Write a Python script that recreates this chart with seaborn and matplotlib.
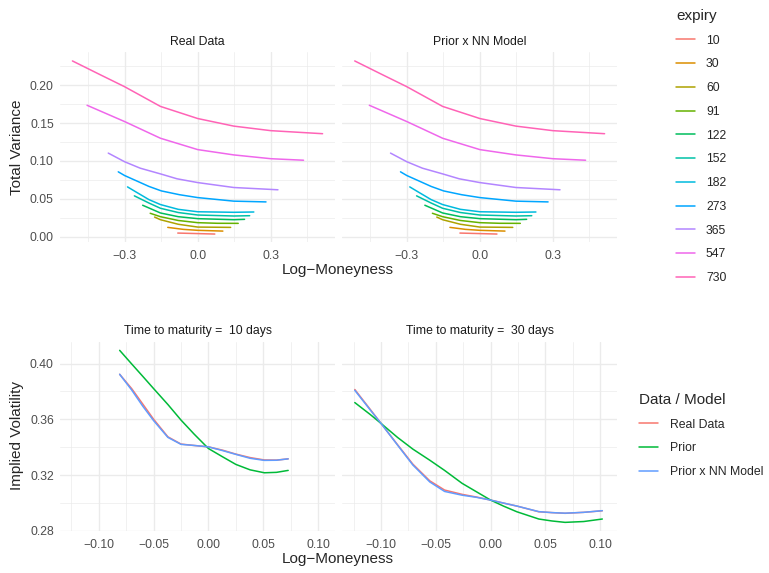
import matplotlib
matplotlib.use('Agg')
import matplotlib.pyplot as plt
from matplotlib.ticker import MultipleLocator, FuncFormatter
import numpy as np
import pandas as pd
import seaborn as sns

# ---- total variance smiles (log-moneyness, total variance) per expiry ----
lm_10 = [-0.082, 0.0, 0.07]
tv_10 = [0.0049, 0.0042, 0.0036]
lm_30 = [-0.123, -0.06, 0.0, 0.103]
tv_30 = [0.0124, 0.0098, 0.0085, 0.0075]
lm_60 = [-0.177, -0.153, -0.08, 0.0, 0.135]
tv_60 = [0.026, 0.0225, 0.0165, 0.0128, 0.0124]
lm_91 = [-0.195, -0.153, -0.08, 0.0, 0.08, 0.166]
tv_91 = [0.031, 0.0265, 0.0215, 0.0186, 0.0178, 0.0177]
lm_122 = [-0.226, -0.153, -0.08, 0.0, 0.148, 0.192]
tv_122 = [0.0416, 0.0314, 0.0265, 0.0239, 0.0225, 0.023]
lm_152 = [-0.26, -0.20, -0.153, -0.08, 0.0, 0.148, 0.213]
tv_152 = [0.054, 0.0445, 0.0376, 0.032, 0.0287, 0.0274, 0.0278]
lm_182 = [-0.288, -0.25, -0.20, -0.153, -0.08, 0.0, 0.148, 0.23]
tv_182 = [0.0658, 0.0585, 0.049, 0.0425, 0.0362, 0.033, 0.0323, 0.0327]
lm_273 = [-0.326, -0.30, -0.20, -0.149, -0.075, 0.0, 0.148, 0.28]
tv_273 = [0.0857, 0.0808, 0.0664, 0.0605, 0.0555, 0.0517, 0.047, 0.046]
lm_365 = [-0.367, -0.30, -0.236, -0.149, -0.085, 0.0, 0.148, 0.329]
tv_365 = [0.1104, 0.099, 0.0905, 0.0826, 0.0765, 0.0715, 0.065, 0.062]
lm_547 = [-0.454, -0.30, -0.153, 0.0, 0.148, 0.30, 0.434]
tv_547 = [0.1735, 0.152, 0.130, 0.115, 0.108, 0.103, 0.101]
lm_730 = [-0.514, -0.40, -0.30, -0.153, 0.0, 0.148, 0.30, 0.512]
tv_730 = [0.232, 0.2138, 0.198, 0.172, 0.156, 0.146, 0.140, 0.136]

expiries = ['10', '30', '60', '91', '122', '152', '182', '273', '365', '547', '730']
exp_colors = ['#F8766D', '#DB8E00', '#AEA200', '#64B200', '#00BD5C', '#00C1A7',
              '#00BADE', '#00A6FF', '#B385FF', '#EF67EB', '#FF63B6']
top_panels = ['Real Data', 'Prior x NN Model']

# ---- implied vol slices ----
lm_10d = [-0.081, -0.07, -0.06, -0.05, -0.037, -0.025, -0.013, 0.0, 0.013, 0.025, 0.038, 0.051, 0.062, 0.0727]
iv_real_10d = [0.3923, 0.382, 0.371, 0.360, 0.3474, 0.3422, 0.3412, 0.3402, 0.3378, 0.335, 0.3325, 0.3308, 0.3307, 0.3316]
iv_prior_10d = [0.4095, 0.3997, 0.3909, 0.382, 0.3706, 0.3594, 0.3493, 0.339, 0.333, 0.3276, 0.3237, 0.3216, 0.3219, 0.3233]
iv_nn_10d = [0.3923, 0.381, 0.3695, 0.359, 0.347, 0.342, 0.3412, 0.3402, 0.3375, 0.3348, 0.332, 0.3305, 0.3306, 0.3316]

lm_30d = [-0.124, -0.11, -0.10, -0.085, -0.071, -0.0555, -0.042, -0.026, -0.013, 0.0, 0.012, 0.024, 0.044, 0.056, 0.068, 0.085, 0.102]
iv_real_30d = [0.3814, 0.3672, 0.357, 0.3418, 0.3278, 0.3158, 0.3092, 0.3061, 0.3042, 0.302, 0.2998, 0.2977, 0.2936, 0.293, 0.2925, 0.2932, 0.2943]
iv_prior_30d = [0.372, 0.3635, 0.357, 0.347, 0.3386, 0.3306, 0.3233, 0.314, 0.308, 0.302, 0.2976, 0.2936, 0.2884, 0.287, 0.286, 0.2866, 0.2884]
iv_nn_30d = [0.3808, 0.3668, 0.357, 0.3415, 0.3272, 0.315, 0.3082, 0.3055, 0.304, 0.302, 0.2998, 0.2977, 0.2937, 0.293, 0.2926, 0.2932, 0.2944]

models = ['Real Data', 'Prior', 'Prior x NN Model']
model_colors = ['#F8766D', '#00BA38', '#619CFF']
bottom_panels = ['Time to maturity =  10 days', 'Time to maturity =  30 days']

# ---- build long tables ----
lm_list = [lm_10, lm_30, lm_60, lm_91, lm_122, lm_152, lm_182, lm_273, lm_365, lm_547, lm_730]
tv_list = [tv_10, tv_30, tv_60, tv_91, tv_122, tv_152, tv_182, tv_273, tv_365, tv_547, tv_730]
rows = []
for e, ks, ws in zip(expiries, lm_list, tv_list):
    for k, w in zip(ks, ws):
        rows.append({'expiry': e, 'lm': k, 'tv': w})
df_tv = pd.DataFrame(rows)

rows = []
for panel, ks, series in [(bottom_panels[0], lm_10d, [iv_real_10d, iv_prior_10d, iv_nn_10d]),
                          (bottom_panels[1], lm_30d, [iv_real_30d, iv_prior_30d, iv_nn_30d])]:
    for m, vals in zip(models, series):
        for k, v in zip(ks, vals):
            rows.append({'panel': panel, 'model': m, 'lm': k, 'iv': v})
df_iv = pd.DataFrame(rows)

sns.set_theme(style='white')
plt.rcParams['font.family'] = ['Liberation Sans', 'DejaVu Sans']

W, H = 769, 573
fig = plt.figure(figsize=(W / 100, H / 100), dpi=100)

SMALL = 8.8
BIG = 11


def px_axes(x0, y0, x1, y1):
    return fig.add_axes([x0 / W, 1 - y1 / H, (x1 - x0) / W, (y1 - y0) / H])


def style_axes(ax, xmaj, ymaj, xfmt, yfmt, show_y):
    ax.set_facecolor('white')
    for s in ax.spines.values():
        s.set_visible(False)
    ax.xaxis.set_major_locator(MultipleLocator(xmaj))
    ax.xaxis.set_minor_locator(MultipleLocator(xmaj / 2))
    ax.yaxis.set_major_locator(MultipleLocator(ymaj))
    ax.yaxis.set_minor_locator(MultipleLocator(ymaj / 2))
    ax.xaxis.set_major_formatter(FuncFormatter(lambda v, p: (xfmt % v).replace('-', '\u2212')))
    ax.yaxis.set_major_formatter(FuncFormatter(lambda v, p: (yfmt % v).replace('-', '\u2212')))
    ax.grid(True, which='major', color='#EBEBEB', linewidth=1.0)
    ax.grid(True, which='minor', color='#EBEBEB', linewidth=0.5)
    ax.set_axisbelow(True)
    ax.tick_params(which='both', length=0, labelsize=SMALL, labelcolor='#4D4D4D', pad=4.5)
    ax.tick_params(axis='x', pad=6)
    if not show_y:
        ax.tick_params(axis='y', labelleft=False)
    ax.set_xlabel('')
    ax.set_ylabel('')


# ---- top row ----
top_axes = [px_axes(60, 52.3, 335, 241.7), px_axes(342.3, 52.3, 617, 241.7)]
for i, (ax, title) in enumerate(zip(top_axes, top_panels)):
    sns.lineplot(data=df_tv, x='lm', y='tv', hue='expiry', hue_order=expiries,
                 palette=exp_colors, sort=False, estimator=None, linewidth=1.1,
                 ax=ax, legend=(i == 0))
    ax.set_xlim(-0.565, 0.563)
    ax.set_ylim(-0.0065, 0.2434)
    style_axes(ax, 0.3, 0.05, '%.1f', '%.2f', i == 0)
    ax.set_title(title, fontsize=SMALL, color='#1A1A1A', pad=5.3)

handles, labels = top_axes[0].get_legend_handles_labels()
top_axes[0].legend_.remove()
fig.legend(handles, labels, title='expiry', loc='upper left',
           bbox_to_anchor=(676 / W, 1 - 9 / H), frameon=False, alignment='left',
           fontsize=SMALL, title_fontsize=BIG, handlelength=1.55, handletextpad=0.9,
           labelspacing=0.96, borderpad=0, borderaxespad=0)

# ---- bottom row ----
bot_axes = [px_axes(60, 341.7, 335, 531), px_axes(342.3, 341.7, 617, 531)]
for i, (ax, title) in enumerate(zip(bot_axes, bottom_panels)):
    sns.lineplot(data=df_iv[df_iv['panel'] == title], x='lm', y='iv', hue='model',
                 hue_order=models, palette=model_colors, sort=False, estimator=None,
                 linewidth=1.1, ax=ax, legend=(i == 0))
    ax.set_xlim(-0.1354, 0.1154)
    ax.set_ylim(0.2798, 0.4157)
    style_axes(ax, 0.05, 0.04, '%.2f', '%.2f', i == 0)
    ax.set_title(title, fontsize=SMALL, color='#1A1A1A', pad=5.3)

handles, labels = bot_axes[0].get_legend_handles_labels()
bot_axes[0].legend_.remove()
fig.legend(handles, labels, title='Data / Model', loc='upper left',
           bbox_to_anchor=(639 / W, 1 - 393 / H), frameon=False, alignment='left',
           fontsize=SMALL, title_fontsize=BIG, handlelength=1.55, handletextpad=1.0,
           labelspacing=0.96, borderpad=0, borderaxespad=0)

# ---- axis titles ----
fig.text(338 / W, 1 - 270 / H, 'Log\u2212Moneyness', ha='center', va='center', fontsize=BIG)
fig.text(338 / W, 1 - 559 / H, 'Log\u2212Moneyness', ha='center', va='center', fontsize=BIG)
fig.text(17 / W, 1 - 147 / H, 'Total Variance', ha='center', va='center', rotation=90, fontsize=BIG)
fig.text(17 / W, 1 - 436 / H, 'Implied Volatility', ha='center', va='center', rotation=90, fontsize=BIG)

fig.savefig('out.png', dpi=100, facecolor='white')
